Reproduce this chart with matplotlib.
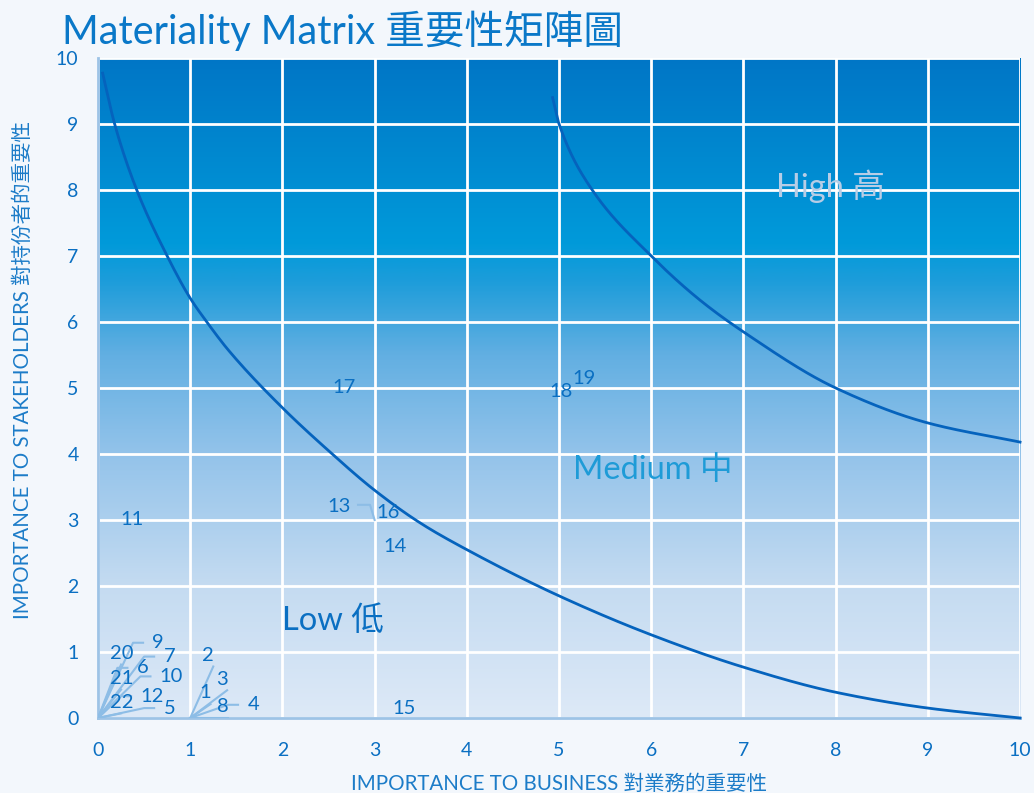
import numpy as np
import matplotlib
matplotlib.use("Agg")
import matplotlib.pyplot as plt
from matplotlib.colors import LinearSegmentedColormap

# ---- data -------------------------------------------------------------
issues = ["1", "2", "3", "4", "5", "6", "7", "8", "9", "10", "11",
          "12", "13", "14", "15", "16", "17", "18", "19", "20", "21", "22"]
business = [1, 1, 1, 1, 0, 0, 0, 1, 0, 0, 0.2,
            0, 2.45, 3.05, 3.15, 3.0, 2.5, 4.85, 5.1, 0, 0, 0]
stakeholders = [0, 0, 0, 0, 0, 0, 0, 0, 0, 0, 3.0,
                0, 3.2, 2.6, 0.15, 3.0, 5.0, 4.95, 5.15, 0, 0, 0]

# boundary between low and medium importance
low_x = [0.05, 0.18, 0.42, 0.75, 1.0, 1.18, 1.41, 2.0, 2.5, 3.0, 3.5, 4.0,
         5.0, 6.0, 7.0, 8.0, 9.0, 10.0]
low_y = [9.77, 9.0, 8.0, 7.0, 6.36, 6.0, 5.58, 4.7, 4.05, 3.45, 2.95, 2.55,
         1.85, 1.26, 0.77, 0.39, 0.15, 0.0]
# boundary between medium and high importance
high_x = [4.93, 5.0, 5.36, 6.0, 6.53, 7.0, 8.0, 9.0, 10.0]
high_y = [9.4, 9.0, 8.0, 7.0, 6.33, 5.85, 5.0, 4.47, 4.18]

ticks = list(range(0, 11))

# label placement for crowded issues (left edge x, centre y), drawn with leaders
label_at = {
    "20": (0.13, 0.98), "9": (0.59, 1.14), "7": (0.71, 0.93),
    "21": (0.13, 0.60), "6": (0.42, 0.76), "10": (0.67, 0.63),
    "22": (0.13, 0.24), "12": (0.46, 0.33), "5": (0.71, 0.15),
    "2": (1.13, 0.95), "3": (1.28, 0.59), "1": (1.10, 0.38),
    "8": (1.29, 0.17), "4": (1.62, 0.20), "16": (3.0, 3.12),
}

BLUE = "#0A6FC2"
LEADER = "#8DBDE6"

plt.rcParams["font.family"] = ["Lato", "Noto Sans CJK TC", "DejaVu Sans"]


def pchip(xs, ys, n=400):
    """Monotone cubic Hermite curve through points with increasing x."""
    x = np.asarray(xs, float)
    y = np.asarray(ys, float)
    h = np.diff(x)
    d = np.diff(y) / h
    m = np.zeros_like(x)
    for k in range(1, len(x) - 1):
        if d[k - 1] * d[k] > 0:
            w1 = 2 * h[k] + h[k - 1]
            w2 = h[k] + 2 * h[k - 1]
            m[k] = (w1 + w2) / (w1 / d[k - 1] + w2 / d[k])
    m[0] = d[0]
    m[-1] = d[-1]
    xx = np.linspace(x[0], x[-1], n)
    idx = np.clip(np.searchsorted(x, xx) - 1, 0, len(h) - 1)
    t = (xx - x[idx]) / h[idx]
    h00 = 2 * t ** 3 - 3 * t ** 2 + 1
    h10 = t ** 3 - 2 * t ** 2 + t
    h01 = -2 * t ** 3 + 3 * t ** 2
    h11 = t ** 3 - t ** 2
    yy = (h00 * y[idx] + h10 * h[idx] * m[idx] + h01 * y[idx + 1]
          + h11 * h[idx] * m[idx + 1])
    return xx, yy


fig = plt.figure(figsize=(10.34, 7.93), dpi=100)
fig.patch.set_facecolor("#F3F7FC")
ax = fig.add_axes([0.0948, 0.0946, 0.8917, 0.8323])

# vertical gradient background
cmap = LinearSegmentedColormap.from_list("bg", [
    (0.0, "#DDE9F7"), (0.2, "#C4DBF1"), (0.4, "#93C3EA"), (0.55, "#62AFE2"),
    (0.66, "#1E9DDA"), (0.72, "#009ADA"), (0.85, "#0089D0"), (1.0, "#0076C6")])
grad = np.linspace(0, 1, 400)[:, None]
ax.imshow(grad, extent=[0, 10, 0, 10], origin="lower", aspect="auto",
          cmap=cmap, zorder=0, interpolation="bicubic")

ax.set_xlim(0, 10)
ax.set_ylim(0, 10)
ax.set_xticks(ticks)
ax.set_yticks(ticks)
ax.grid(True, color="white", linewidth=2.0, zorder=1)
ax.set_axisbelow(False)
for s in ["top", "right"]:
    ax.spines[s].set_visible(False)
for s in ["left", "bottom"]:
    ax.spines[s].set_color("#9DC3E6")
    ax.spines[s].set_linewidth(2)
    ax.spines[s].set_zorder(3)
ax.tick_params(length=0, labelsize=14, labelcolor=BLUE)
ax.xaxis.set_tick_params(pad=17)
ax.yaxis.set_tick_params(pad=14)

# boundary curves
lx, ly = pchip(low_x, low_y)
hx, hy = pchip(high_x, high_y)
ax.plot(lx, ly, color="#0563BD", lw=2, zorder=4, clip_on=False)
ax.plot(hx, hy, color="#0563BD", lw=2, zorder=4, clip_on=False)

# invisible issue points with their number labels
ax.scatter(business, stakeholders, s=0, zorder=5)
pad, stub = 0.09, 0.12
FS = 14.5
for name, bx, sy in zip(issues, business, stakeholders):
    if name in label_at:
        tx, ty = label_at[name]
        end = tx - pad
        if name == "16":
            ax.plot([bx, bx - 0.05, bx - 0.18], [sy, sy + 0.23, sy + 0.23],
                    color=LEADER, lw=1.5, zorder=4)
            ax.text(tx + 0.02, ty, name, color=BLUE, fontsize=FS,
                    ha="left", va="center", zorder=6)
            continue
        if end - bx < 0.2:
            ax.plot([bx, tx + 0.12], [sy, ty - 0.17], color=LEADER, lw=1.5,
                    zorder=4)
        else:
            ax.plot([bx, end - stub, end], [sy, ty, ty], color=LEADER,
                    lw=1.5, zorder=4, solid_capstyle="butt")
        ax.text(tx, ty, name, color=BLUE, fontsize=FS, ha="left",
                va="center", zorder=6)
    else:
        ax.text(bx + 0.04, sy, name, color=BLUE, fontsize=FS, ha="left",
                va="center", zorder=6)

# zone names
ax.text(2.0, 1.47, "Low 低", color="#0A6FC2", fontsize=23.5, ha="left",
        va="center", zorder=6)
ax.text(5.15, 3.75, "Medium 中", color="#1E9BD7", fontsize=23.5, ha="left",
        va="center", zorder=6)
ax.text(7.35, 8.05, "High 高", color="#B7CDE6", fontsize=23.5, ha="left",
        va="center", zorder=6)

ax.set_xlabel("IMPORTANCE TO BUSINESS 對業務的重要性", color="#1C7CC8",
              fontsize=14.8, labelpad=11)
ax.set_ylabel("IMPORTANCE TO STAKEHOLDERS 對持份者的重要性", color="#1C7CC8",
              fontsize=14.8)
ax.yaxis.set_label_coords(-0.071, 0.527)

fig.text(0.060, 0.944, "Materiality Matrix 重要性矩陣圖", color="#0A78C8",
         fontsize=28.5, ha="left", va="baseline")

fig.savefig("out.png", dpi=100, facecolor=fig.get_facecolor())
